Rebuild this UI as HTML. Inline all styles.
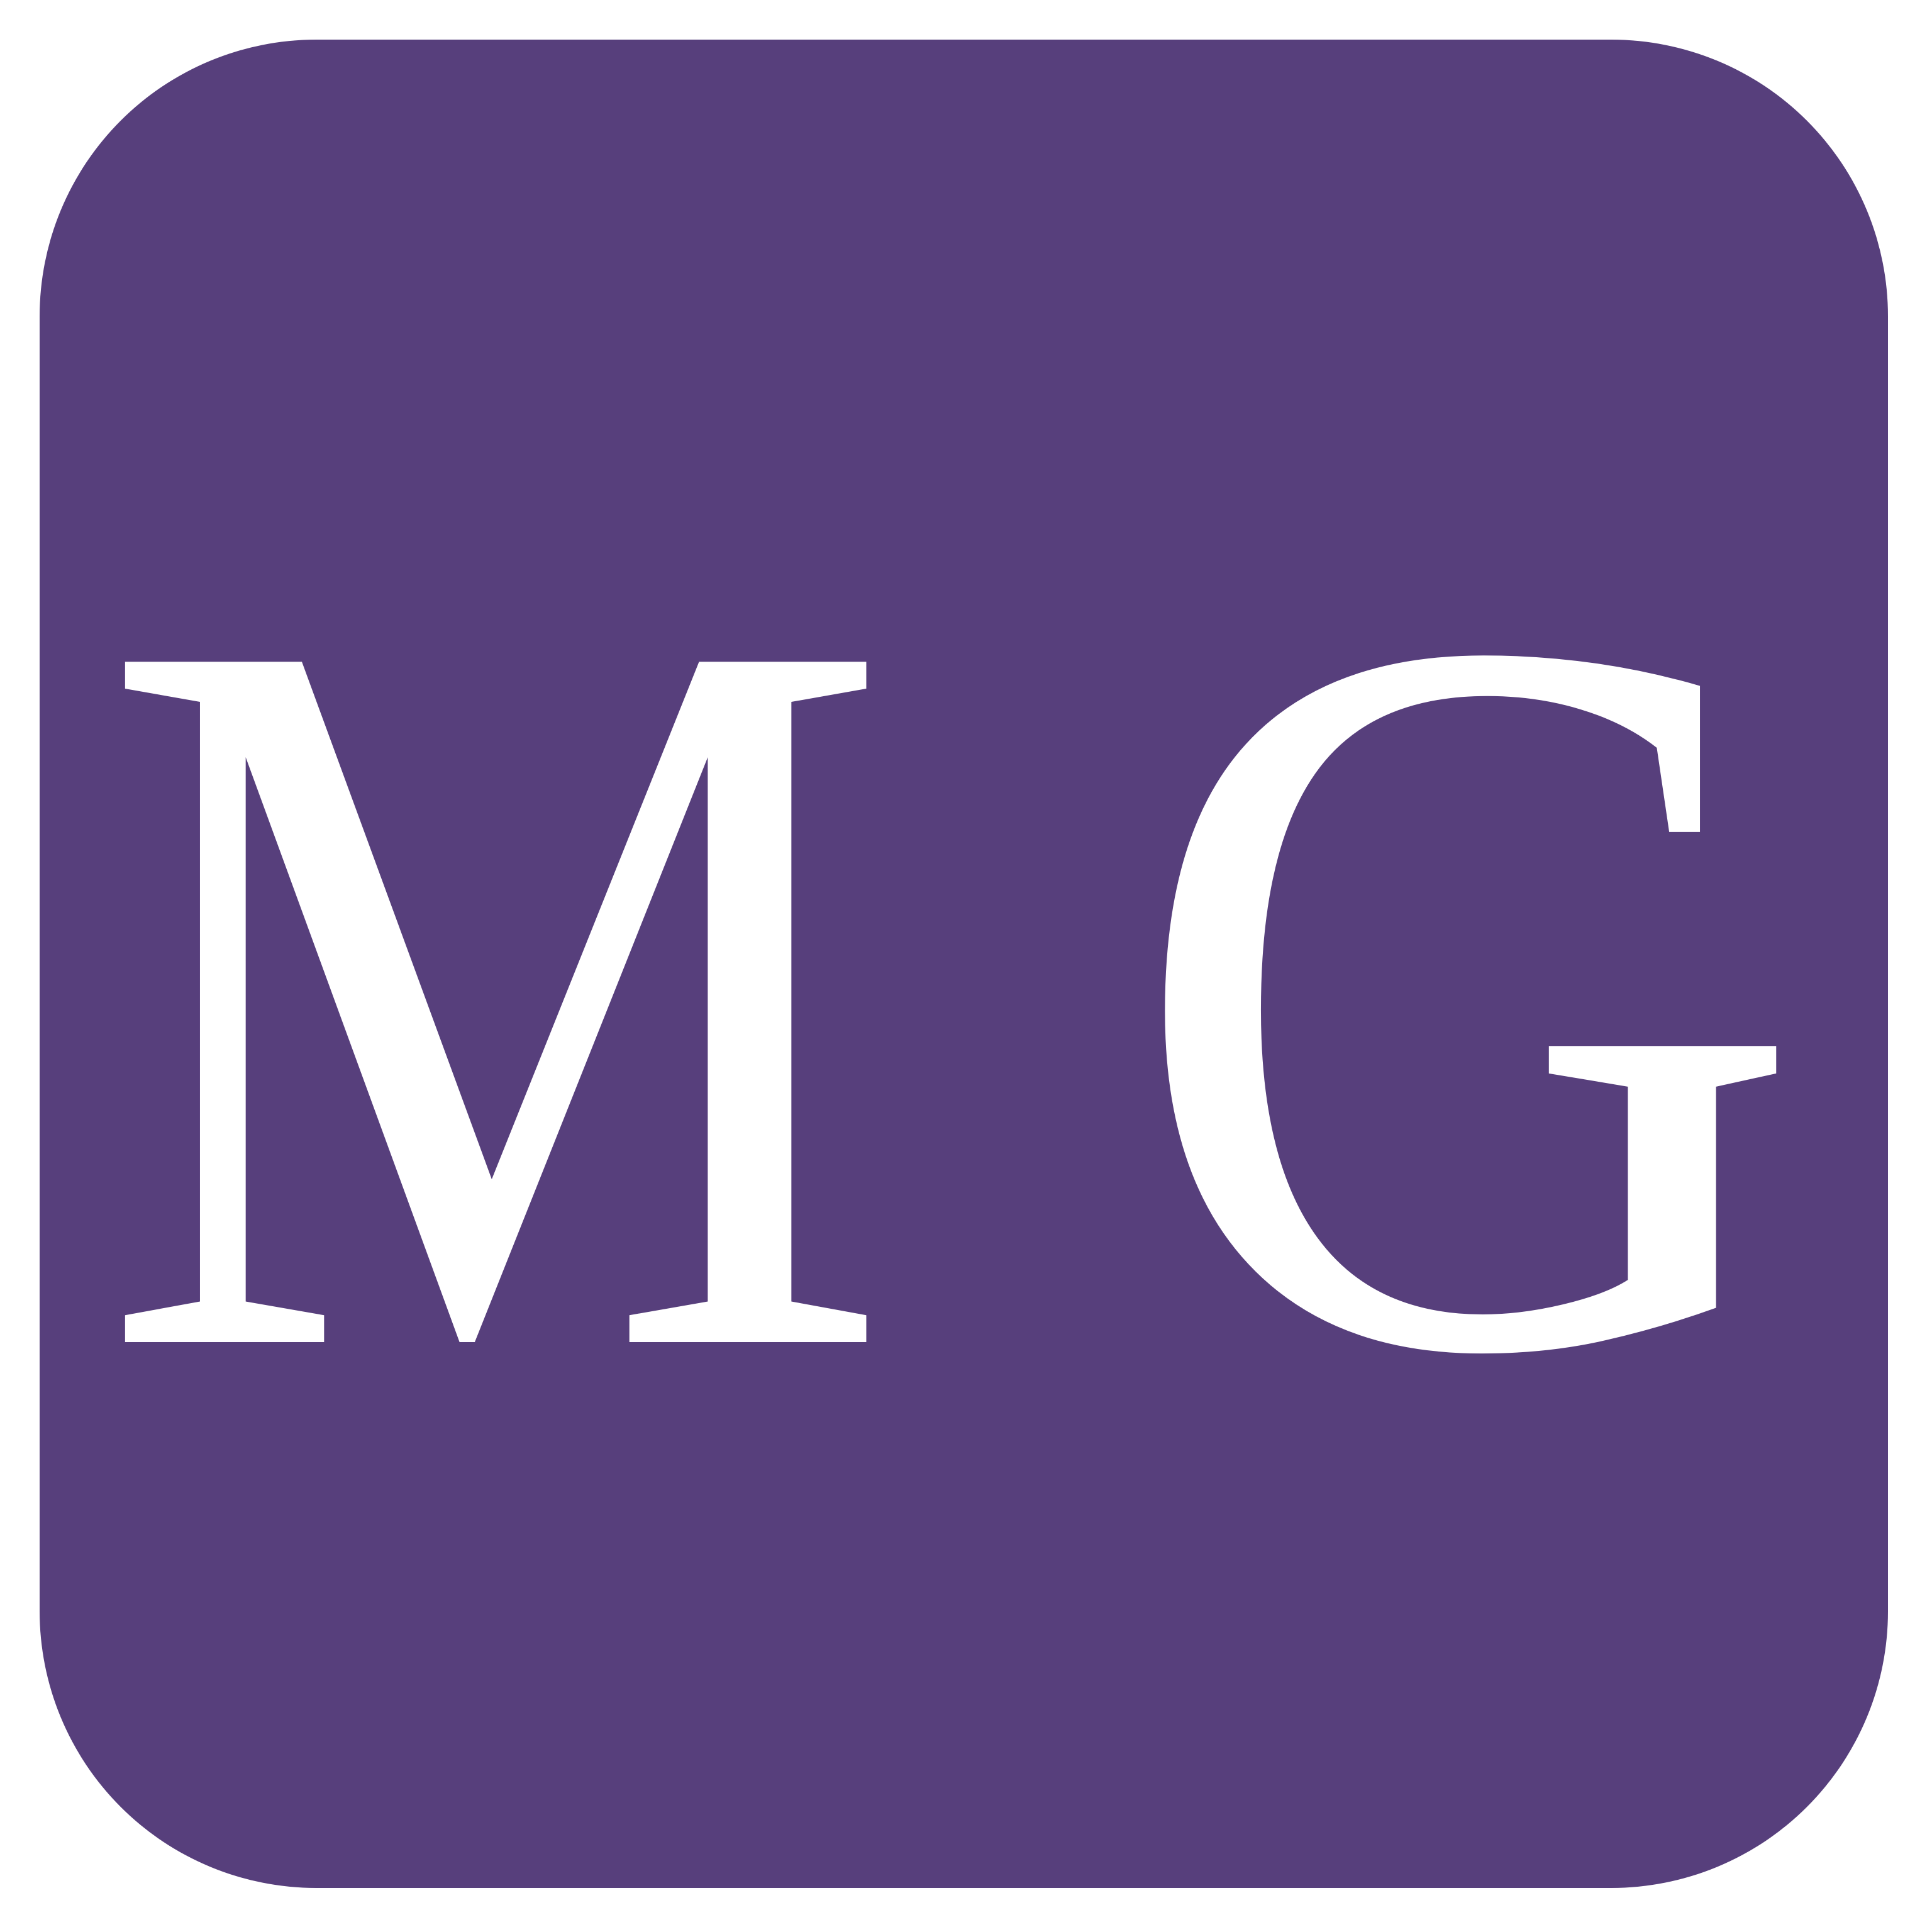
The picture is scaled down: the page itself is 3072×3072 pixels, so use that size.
<!DOCTYPE html>
<html>
<head>
<meta charset="utf-8">
<style>
  html, body { margin: 0; padding: 0; background: #ffffff; }
  svg { display: block; }
</style>
</head>
<body>
<svg width="3072" height="3072" viewBox="0 0 3072 3072" xmlns="http://www.w3.org/2000/svg">
  <rect x="63" y="63" width="2939" height="2939" rx="440" ry="440" fill="#573f7c"/>
  <text x="158" y="2134" font-family="'Liberation Serif', serif" font-size="1652" fill="#ffffff" textLength="1261" lengthAdjust="spacingAndGlyphs">M</text>
  <text x="1791" y="2136" font-family="'Liberation Serif', serif" font-size="1652" fill="#ffffff" textLength="1080" lengthAdjust="spacingAndGlyphs">G</text>
</svg>
</body>
</html>
